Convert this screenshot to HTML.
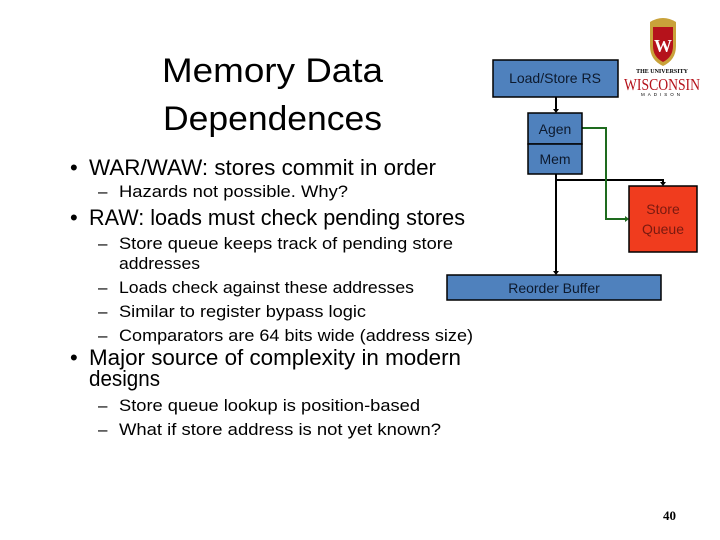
<!DOCTYPE html>
<html><head><meta charset="utf-8"><style>
html,body{margin:0;padding:0;background:#fff;}
svg{display:block;}
.c{font-family:"Liberation Sans",sans-serif;}
</style></head><body>
<svg width="720" height="540" viewBox="0 0 720 540" xmlns="http://www.w3.org/2000/svg" font-family="Liberation Sans, sans-serif">
<g fill="#000">
<text x="162" y="82" font-size="34" textLength="221" lengthAdjust="spacingAndGlyphs">Memory Data</text>
<text x="163" y="130" font-size="34" textLength="219" lengthAdjust="spacingAndGlyphs">Dependences</text>
<text x="70" y="175" font-size="22">•</text>
<text x="89" y="175" font-size="22" textLength="347" lengthAdjust="spacingAndGlyphs">WAR/WAW: stores commit in order</text>
<text x="98" y="197" font-size="17">–</text>
<text x="119" y="197" font-size="17" textLength="229" lengthAdjust="spacingAndGlyphs">Hazards not possible.  Why?</text>
<text x="70" y="225" font-size="22">•</text>
<text x="89" y="225" font-size="22" textLength="376" lengthAdjust="spacingAndGlyphs">RAW: loads must check pending stores</text>
<text x="98" y="249" font-size="17">–</text>
<text x="119" y="249" font-size="17" textLength="334" lengthAdjust="spacingAndGlyphs">Store queue keeps track of pending store</text>
<text x="119" y="269" font-size="17" textLength="81" lengthAdjust="spacingAndGlyphs">addresses</text>
<text x="98" y="293" font-size="17">–</text>
<text x="119" y="293" font-size="17" textLength="295" lengthAdjust="spacingAndGlyphs">Loads check against these addresses</text>
<text x="98" y="317" font-size="17">–</text>
<text x="119" y="317" font-size="17" textLength="247" lengthAdjust="spacingAndGlyphs">Similar to register bypass logic</text>
<text x="98" y="341" font-size="17">–</text>
<text x="119" y="341" font-size="17" textLength="354" lengthAdjust="spacingAndGlyphs">Comparators are 64 bits wide (address size)</text>
<text x="70" y="365" font-size="22">•</text>
<text x="89" y="365" font-size="22" textLength="372" lengthAdjust="spacingAndGlyphs">Major source of complexity in modern</text>
<text x="89" y="386" font-size="22" textLength="71" lengthAdjust="spacingAndGlyphs">designs</text>
<text x="98" y="411" font-size="17">–</text>
<text x="119" y="411" font-size="17" textLength="301" lengthAdjust="spacingAndGlyphs">Store queue lookup is position-based</text>
<text x="98" y="435" font-size="17">–</text>
<text x="119" y="435" font-size="17" textLength="322" lengthAdjust="spacingAndGlyphs">What if store address is not yet known?</text>
<text x="663" y="520" font-size="13" font-weight="bold" font-family="Liberation Serif, serif">40</text>
</g>
<!-- connectors -->
<g stroke="#000" stroke-width="2" fill="none">
<line x1="556" y1="97" x2="556" y2="110"/>
<line x1="556" y1="174" x2="556" y2="272"/>
<polyline points="556,180 663,180 663,183"/>
</g>
<g fill="#000">
<polygon points="553,109 559,109 556,113"/>
<polygon points="553,271 559,271 556,275"/>
<polygon points="660,182 666,182 663,186"/>
</g>
<polyline points="582,128 606,128 606,219 626,219" stroke="#1e6b1e" stroke-width="2" fill="none"/>
<polygon points="625,216 625,222 629,219" fill="#1e6b1e"/>
<!-- boxes -->
<g stroke="#000" stroke-width="1.5">
<rect x="493" y="60" width="125" height="37" fill="#4f81bd"/>
<rect x="528" y="113" width="54" height="31" fill="#4f81bd"/>
<rect x="528" y="144" width="54" height="30" fill="#4f81bd"/>
<rect x="629" y="186" width="68" height="66" fill="#f03c1e"/>
<rect x="447" y="275" width="214" height="25" fill="#4f81bd"/>
</g>
<g font-size="14" fill="#0d1a2e" text-anchor="middle">
<text x="555" y="83">Load/Store RS</text>
<text x="555" y="134">Agen</text>
<text x="555" y="164">Mem</text>
<text x="554" y="293">Reorder Buffer</text>
</g>
<g font-size="14" fill="#7a1a10" text-anchor="middle">
<text x="663" y="214">Store</text>
<text x="663" y="234">Queue</text>
</g>
<!-- logo -->
<path d="M650,22 Q663,14 676,22 L676,46 Q676,60 663,66 Q650,60 650,46 Z" fill="#c9a23a"/>
<path d="M653,27 L673,27 L673,46 Q673,57 663,62 Q653,57 653,46 Z" fill="#b5121b"/>
<text x="663" y="52" font-size="18" font-weight="bold" fill="#fff" text-anchor="middle" font-family="Liberation Serif, serif">W</text>
<text x="662" y="73" font-size="6" font-weight="bold" text-anchor="middle" font-family="Liberation Serif, serif">THE UNIVERSITY</text>
<text x="662" y="90" font-size="17" fill="#b5121b" text-anchor="middle" font-family="Liberation Serif, serif" textLength="76" lengthAdjust="spacingAndGlyphs">WISCONSIN</text>
<text x="662" y="96" font-size="4.5" text-anchor="middle" letter-spacing="3">MADISON</text>
</svg>
</body></html>
